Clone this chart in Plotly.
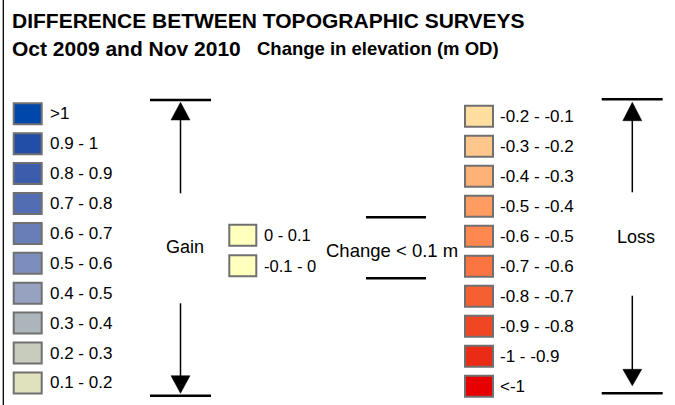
import plotly.graph_objects as go

# ---- data ----
gain_labels = [">1", "0.9 - 1", "0.8 - 0.9", "0.7 - 0.8", "0.6 - 0.7",
               "0.5 - 0.6", "0.4 - 0.5", "0.3 - 0.4", "0.2 - 0.3", "0.1 - 0.2"]
gain_colors = ["rgb(0,71,171)", "rgb(35,78,168)", "rgb(60,93,172)", "rgb(82,109,178)",
               "rgb(105,126,182)", "rgb(125,142,190)", "rgb(150,162,192)",
               "rgb(172,182,186)", "rgb(200,204,188)", "rgb(224,226,190)"]
small_labels = ["0 - 0.1", "-0.1 - 0"]
small_colors = ["rgb(255,255,190)", "rgb(255,255,190)"]
loss_labels = ["-0.2 - -0.1", "-0.3 - -0.2", "-0.4 - -0.3", "-0.5 - -0.4", "-0.6 - -0.5",
               "-0.7 - -0.6", "-0.8 - -0.7", "-0.9 - -0.8", "-1 - -0.9", "<-1"]
loss_colors = ["rgb(255,222,160)", "rgb(255,199,140)", "rgb(255,178,120)", "rgb(255,156,98)",
               "rgb(255,135,80)", "rgb(251,117,66)", "rgb(245,95,50)", "rgb(240,70,35)",
               "rgb(234,44,22)", "rgb(230,0,0)"]

title1 = "DIFFERENCE BETWEEN TOPOGRAPHIC SURVEYS"
title2 = "Oct 2009 and Nov 2010"
subtitle = "Change in elevation (m OD)"

W, H = 675, 405
FONT = "Liberation Sans, Arial, sans-serif"
BORDER = "rgb(112,112,112)"

fig = go.Figure()

def column(labels, colors, x0, y_first, step, length, height, tx, fsize):
    ys = [y_first + i * step for i in range(len(labels))]
    fig.add_trace(go.Bar(
        orientation="h", y=ys, x=[length] * len(ys), base=[x0] * len(ys),
        width=height, marker=dict(color=colors, line=dict(color=BORDER, width=2)),
        hoverinfo="skip", showlegend=False))
    for y, lab in zip(ys, labels):
        fig.add_annotation(x=tx, y=y, text=lab, showarrow=False, xanchor="left",
                           yanchor="middle", font=dict(family=FONT, size=fsize, color="black"))

column(gain_labels, gain_colors, 13.7, 113.8, 29.9, 28, 21, 47.5, 17)
column(loss_labels, loss_colors, 465, 116.3, 30.0, 28, 21, 498, 17)
column(small_labels, small_colors, 229.3, 235.3, 30.5, 27, 21, 262, 16.5)

def txt(x, y, s, size, bold=False, anchor="left"):
    fig.add_annotation(x=x, y=y, text=f"<b>{s}</b>" if bold else s, showarrow=False,
                       xanchor=anchor, yanchor="middle",
                       font=dict(family=FONT, size=size, color="black"))

txt(10, 20, title1, 21, True)
txt(10, 48.5, title2, 21, True)
txt(255, 48, subtitle, 18.5, True)
txt(164, 246.5, "Gain", 18)
txt(324, 250, "Change < 0.1 m", 18.5)
txt(615, 237, "Loss", 18)

shapes = []
def hline(x0, x1, y, w=2.5):
    shapes.append(dict(type="line", xref="x", yref="y", x0=x0, x1=x1, y0=y, y1=y,
                       line=dict(color="black", width=w)))
def vline(x, y0, y1, w=1.5):
    shapes.append(dict(type="line", xref="x", yref="y", x0=x, x1=x, y0=y0, y1=y1,
                       line=dict(color="black", width=w)))
def tri(xc, tip, base, half=9.5):
    shapes.append(dict(type="path", xref="x", yref="y",
                       path=f"M {xc},{tip} L {xc-half},{base} L {xc+half},{base} Z",
                       fillcolor="black", line=dict(color="black", width=0.5)))

# gain arrows
hline(150, 211, 100)
tri(180.5, 102.3, 120)
vline(180.5, 119, 193.3)
vline(180.5, 303.3, 377)
tri(180.5, 393.3, 375.7)
hline(150, 211, 395.7)
# loss arrows
hline(601.7, 662.7, 99.3)
tri(632.3, 102.3, 120.7)
vline(632.3, 119, 192.3)
vline(632.3, 295.7, 370)
tri(632.3, 385.7, 369.3)
hline(601.7, 662.7, 393.3)
# change < 0.1 lines
hline(366, 426, 217.3)
hline(366, 426, 278.3)
# left frame
vline(3.3, 0, 405, 1.3)

fig.update_layout(
    width=W, height=H, margin=dict(l=0, r=0, t=0, b=0),
    paper_bgcolor="white", plot_bgcolor="white", barmode="overlay",
    xaxis=dict(range=[0, W], visible=False, fixedrange=True),
    yaxis=dict(range=[H, 0], visible=False, fixedrange=True),
    shapes=shapes, showlegend=False)

fig.write_html("out.html", config={"displayModeBar": False},
               post_script="document.body.style.margin='0';document.body.style.overflow='hidden';")
